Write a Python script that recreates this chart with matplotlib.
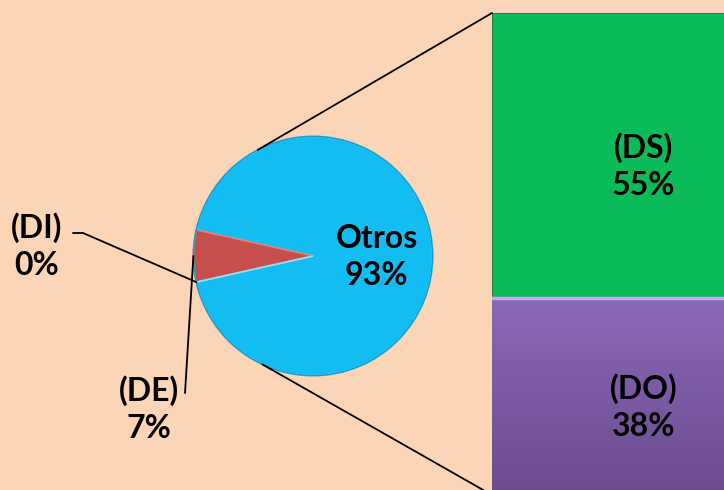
import numpy as np
import matplotlib
matplotlib.use("Agg")
import matplotlib.pyplot as plt
from matplotlib.patches import ConnectionPatch
from matplotlib.colors import LinearSegmentedColormap

# pie: overall split
pie_labels = ["Otros", "(DE)", "(DI)"]
pie_values = [93, 7, 0]
pie_colors = ["#12BDF3", "#C5504B", "#C5504B"]

# bar: breakdown of "Otros"
bar_labels = ["(DO)", "(DS)"]
bar_values = [38, 55]
bar_colors = ["#7B5CA5", "#0BBB57"]

BG = "#FBD5B5"
W, H = 724, 490
FONT = "Lato"
FS = 23
LS = 1.35


def px_box(x0, y0, x1, y1):
    # pixel box (origin top-left) -> figure fraction rect
    return [x0 / W, (H - y1) / H, (x1 - x0) / W, (y1 - y0) / H]


fig = plt.figure(figsize=(W / 100, H / 100), dpi=100, facecolor=BG)

# -----------------------------
# Pie
# -----------------------------
ax_pie = fig.add_axes(px_box(191, 134, 435, 378))
ax_pie.set_facecolor("none")
start = 180 + 360 * (pie_values[1] / 2) / sum(pie_values)
wedges, _ = ax_pie.pie(pie_values, colors=pie_colors, startangle=start,
                       radius=1, counterclock=True,
                       wedgeprops=dict(edgecolor="#8FE2FF", linewidth=1.2))
wedges[1].set_edgecolor("#E07A74")
ax_pie.add_patch(plt.Circle((0, 0), 1.0, fill=False, ec="#1C9CCB", lw=1.2))
ax_pie.set_xlim(-1.02, 1.02)
ax_pie.set_ylim(-1.02, 1.02)
ax_pie.axis("off")

ax_pie.text(0.53, -0.01, f"{pie_labels[0]}\n{pie_values[0]}%", ha="center",
            va="center", fontsize=FS, fontweight="bold", family=FONT,
            linespacing=LS)

# wedge angles for the leaders
def wedge_point(w, frac, r=1.0):
    ang = np.deg2rad(w.theta1 + frac * (w.theta2 - w.theta1))
    return (r * np.cos(ang), r * np.sin(ang))


# -----------------------------
# Stacked bar
# -----------------------------
ax_bar = fig.add_axes(px_box(492, 13, 792, 495))
ax_bar.set_facecolor("none")
bottom = 0
bars = []
for lbl, val, col in zip(bar_labels, bar_values, bar_colors):
    b = ax_bar.bar(0, val, width=1, bottom=bottom, align="edge", color=col,
                   edgecolor="#2E6B45" if lbl == "(DS)" else "#5A437A",
                   linewidth=1.2)
    bars.append(b[0])
    ax_bar.text(0.505, bottom + val / 2 - 2, f"{lbl}\n{val}%", ha="center",
                va="center", fontsize=FS, fontweight="bold", family=FONT,
                linespacing=LS)
    bottom += val

# purple gradient on the lower block
purple = bars[0]
grad = np.linspace(0, 1, 256).reshape(-1, 1)
cmap = LinearSegmentedColormap.from_list("pg", ["#6A4C8E", "#8B69B8"])
im = ax_bar.imshow(grad, extent=(0, 1, purple.get_y(),
                                 purple.get_y() + purple.get_height()),
                   origin="lower", aspect="auto", cmap=cmap, zorder=1.5)
im.set_clip_path(purple)
ax_bar.plot([0, 1], [bar_values[0], bar_values[0]], color="#C7A6EE",
            lw=2.5, zorder=3)

ax_bar.set_xlim(0, 1)
ax_bar.set_ylim(0, sum(bar_values))
ax_bar.axis("off")

# -----------------------------
# Connector lines pie -> bar
# -----------------------------
for ang, yb in [(117.5, sum(bar_values)), (245.0, 0)]:
    a = np.deg2rad(ang)
    con = ConnectionPatch(xyA=(np.cos(a), np.sin(a)), coordsA=ax_pie.transData,
                          xyB=(0, yb), coordsB=ax_bar.transData,
                          color="black", lw=1.3)
    fig.add_artist(con)

# -----------------------------
# Small slice labels with leaders
# -----------------------------
fig.text(37, H - 246, f"{pie_labels[2]}\n{pie_values[2]}%", transform=None,
         ha="center", va="center", fontsize=FS, fontweight="bold",
         family=FONT, linespacing=LS)
fig.add_artist(ConnectionPatch(xyA=(73, H - 233), coordsA="figure pixels",
                               xyB=(83, H - 233), coordsB="figure pixels",
                               color="black", lw=1.3))
fig.add_artist(ConnectionPatch(xyA=(83, H - 233), coordsA="figure pixels",
                               xyB=wedge_point(wedges[2], 0.0),
                               coordsB=ax_pie.transData,
                               color="black", lw=1.3))

fig.text(149, H - 409, f"{pie_labels[1]}\n{pie_values[1]}%", transform=None,
         ha="center", va="center", fontsize=FS, fontweight="bold",
         family=FONT, linespacing=LS)
fig.add_artist(ConnectionPatch(xyA=(185, H - 393), coordsA="figure pixels",
                               xyB=wedge_point(wedges[1], 0.5),
                               coordsB=ax_pie.transData,
                               color="black", lw=1.3))

fig.savefig("out.png", dpi=100, facecolor=BG)
